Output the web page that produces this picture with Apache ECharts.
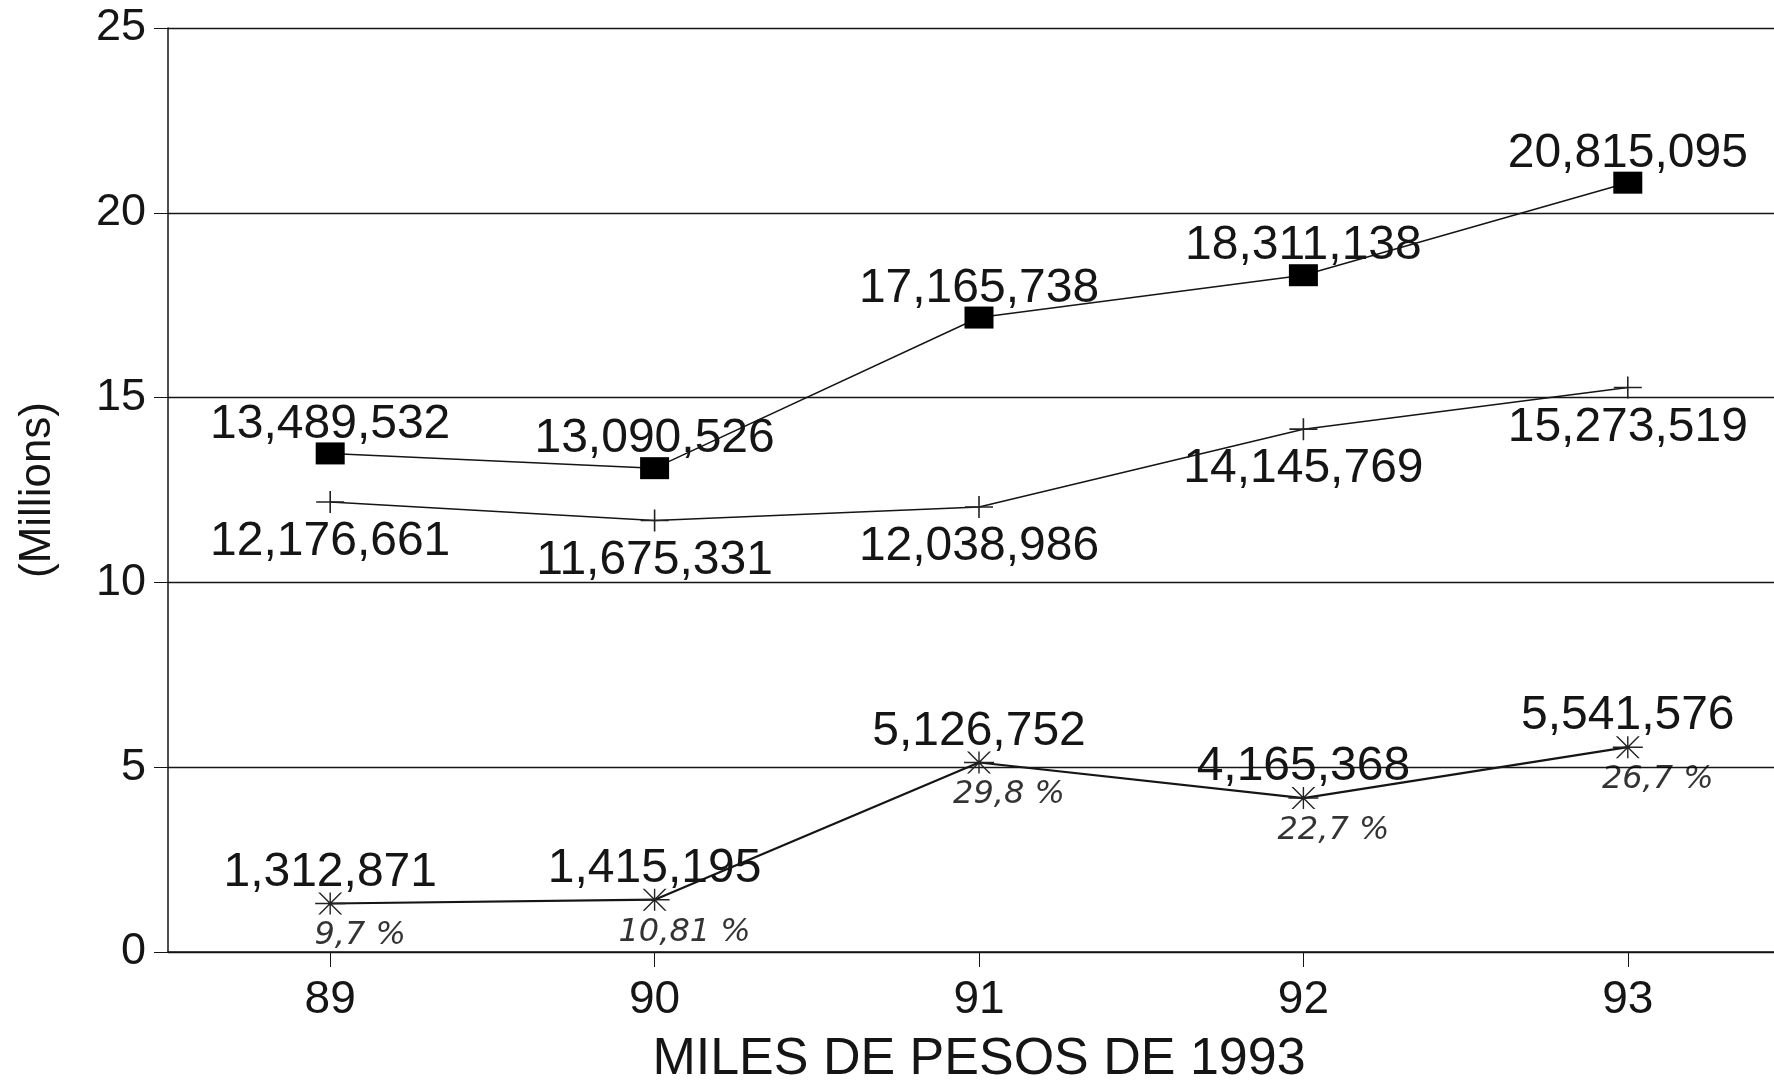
<!DOCTYPE html>
<html>
<head>
<meta charset="utf-8">
<script src="https://cdn.jsdelivr.net/npm/echarts@6/dist/echarts.min.js"></script>
<style>
  html, body { margin: 0; padding: 0; background: #fff; }
  .main { width: 1774px; height: 1081px; }
</style>
</head>
<body>
<div class="main"></div>
<script>
// años (eje x)
const years = ['89', '90', '91', '92', '93'];

// valores en pesos, se grafican en millones
const serieCuadros = [13489532, 13090526, 17165738, 18311138, 20815095];
const serieCruces = [12176661, 11675331, 12038986, 14145769, 15273519];
const serieEstrellas = [1312871, 1415195, 5126752, 4165368, 5541576];

// anotaciones a mano bajo la serie inferior
const porcentajes = ['9,7 %', '10,81 %', '29,8 %', '22,7 %', '26,7 %'];

// marcas del eje y
const yTicks = [0, 5, 10, 15, 20, 25];

const INK = '#151515';
const FONT = "'Liberation Sans', Arial, sans-serif";

let myChart = echarts.init(document.querySelector('.main'), null, { renderer: 'canvas' });

/**
 * separa miles con coma
 */
function miles(n) {
  return String(n).replace(/\B(?=(\d{3})+(?!\d))/g, ',');
}

function enMillones(arr) {
  return arr.map(v => v / 1e6);
}

const plusPath = 'path://M0,10.2h28v1.6h-28z M13.2,0h1.6v22h-1.6z';
const starPath = 'path://M0,10.3h30v1.4h-30z M14.3,0h1.4v22h-1.4z M3,0L5,0L27,22L25,22Z M25,0L27,0L5,22L3,22Z';

function valueLabel(arr, pos, dist, dy) {
  return {
    show: true,
    position: pos,
    distance: dist,
    offset: [0, dy],
    fontFamily: FONT,
    fontSize: 48,
    color: INK,
    formatter: p => miles(arr[p.dataIndex])
  };
}

let option = {
  backgroundColor: '#fff',
  animation: false,
  grid: {
    left: 168,
    right: -16,
    top: 28,
    bottom: 129,
    containLabel: false,
    outerBoundsMode: 'none'
  },
  xAxis: {
    type: 'category',
    data: years,
    boundaryGap: true,
    name: 'MILES DE PESOS DE 1993',
    nameLocation: 'middle',
    nameGap: 82,
    nameTextStyle: {
      fontFamily: FONT,
      fontSize: 52,
      color: INK
    },
    axisLine: { show: true, lineStyle: { color: INK, width: 1.5 } },
    axisTick: { show: true, alignWithLabel: true, length: 15, lineStyle: { color: INK, width: 1 } },
    axisLabel: { fontFamily: FONT, fontSize: 46, color: INK, margin: 25 },
    splitLine: { show: false }
  },
  yAxis: {
    type: 'value',
    min: yTicks[0],
    max: yTicks[yTicks.length - 1],
    interval: 5,
    name: '(Millions)',
    nameLocation: 'middle',
    nameGap: 108,
    nameRotate: 90,
    nameTextStyle: { fontFamily: FONT, fontSize: 44, color: INK },
    axisLine: { show: true, lineStyle: { color: INK, width: 1.5 } },
    axisTick: { show: true, length: 14, lineStyle: { color: INK, width: 1 } },
    axisLabel: { fontFamily: FONT, fontSize: 45, color: INK, margin: 22 },
    splitLine: { show: true, lineStyle: { color: INK, width: 1.3 } }
  },
  series: [
    {
      name: 'cuadros',
      type: 'line',
      data: enMillones(serieCuadros),
      symbol: 'rect',
      symbolSize: [29, 22],
      itemStyle: { color: '#000' },
      lineStyle: { color: INK, width: 1.5 },
      label: valueLabel(serieCuadros, 'top', 2, 8),
      emphasis: { disabled: true }
    },
    {
      name: 'cruces',
      type: 'line',
      data: enMillones(serieCruces),
      symbol: plusPath,
      symbolSize: [28, 22],
      itemStyle: { color: '#222' },
      lineStyle: { color: INK, width: 1.5 },
      label: valueLabel(serieCruces, 'bottom', 5, 0),
      emphasis: { disabled: true }
    },
    {
      name: 'estrellas',
      type: 'line',
      data: enMillones(serieEstrellas),
      symbol: starPath,
      symbolSize: [30, 22],
      itemStyle: { color: '#222' },
      lineStyle: { color: INK, width: 2.2 },
      label: valueLabel(serieEstrellas, 'top', 2, 6),
      emphasis: { disabled: true }
    },
    {
      name: 'porcentaje',
      type: 'scatter',
      data: enMillones(serieEstrellas),
      symbolSize: 1,
      itemStyle: { color: 'rgba(0,0,0,0)' },
      label: {
        show: true,
        position: 'bottom',
        distance: 16,
        offset: [30, 0],
        fontFamily: "'DejaVu Sans', sans-serif",
        fontStyle: 'italic',
        fontSize: 32,
        color: '#000',
        formatter: p => porcentajes[p.dataIndex]
      },
      emphasis: { disabled: true },
      z: 3
    }
  ]
};

myChart.setOption(option);
</script>
</body>
</html>
